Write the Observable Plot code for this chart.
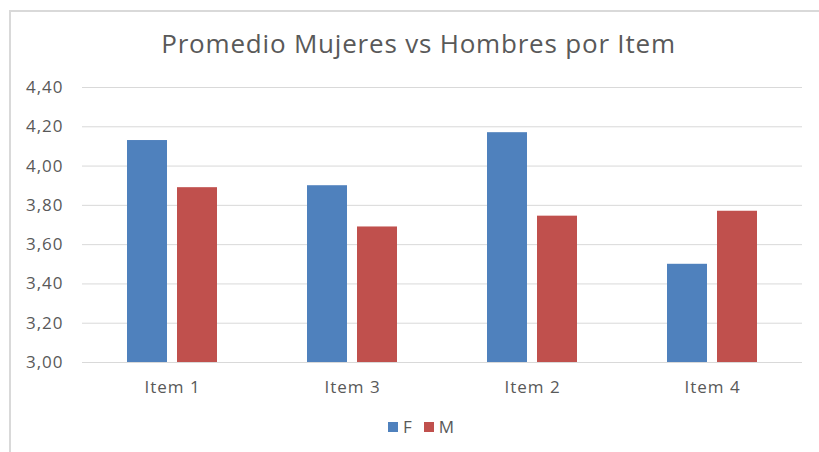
<!DOCTYPE html>
<html><head><meta charset="utf-8">
<script src="https://cdn.jsdelivr.net/npm/d3@7"></script>
<script src="https://cdn.jsdelivr.net/npm/@observablehq/plot@0.6"></script>
<style>
body{margin:0;background:#fff;}
#wrap{position:relative;width:819px;height:452px;overflow:hidden;font-family:"Open Sans",sans-serif;background:#fff;}
#frame{position:absolute;left:9px;top:10px;width:900px;height:500px;border-left:2px solid #d9d9d9;border-top:2px solid #d9d9d9;}
#title{position:absolute;left:0;top:26px;width:837px;text-align:center;font-size:26px;letter-spacing:0.8px;line-height:34px;color:#595959;white-space:nowrap;}
#chart{position:absolute;left:0;top:0;}
#legend{position:absolute;top:416px;left:388px;font-size:17px;line-height:22px;color:#595959;display:flex;align-items:center;}
#legend .sw{display:inline-block;width:10px;height:10px;margin-right:5px;}
#legend .it{display:flex;align-items:center;margin-right:12px;}
</style>
</head><body>
<div id="wrap">
  <div id="frame"></div>
  <div id="title"></div>
  <div id="chart"></div>
  <div id="legend"></div>
</div>
<script>
const titleText = "Promedio Mujeres vs Hombres por Item";
const items = ["Item 1", "Item 3", "Item 2", "Item 4"];
const series = ["F", "M"];
const valuesF = [4.13, 3.90, 4.17, 3.50];
const valuesM = [3.89, 3.69, 3.745, 3.77];
const colors = ["#4F81BD", "#C0504D"];
const yTicks = [3.0, 3.2, 3.4, 3.6, 3.8, 4.0, 4.2, 4.4];

const data = items.flatMap((it, i) => [
  {item: it, sex: series[0], value: valuesF[i]},
  {item: it, sex: series[1], value: valuesM[i]}
]);

const fmt = d3.formatLocale({decimal: ",", thousands: ".", grouping: [3], currency: ["", "€"]}).format(".2f");

document.getElementById("title").textContent = titleText;

const chart = Plot.plot({
  width: 819,
  height: 400,
  marginTop: 87,
  marginBottom: 38,
  marginLeft: 80,
  marginRight: 16,
  style: {fontFamily: "'Open Sans', sans-serif", fontSize: "17px", letterSpacing: "1px", color: "#595959", background: "transparent"},
  fx: {domain: items, padding: 0, label: null, axis: "bottom", tickSize: 0, tickPadding: 18},
  x: {domain: series, axis: null, paddingInner: 0.21, paddingOuter: 0.87},
  y: {domain: [3, 4.4], ticks: yTicks, tickFormat: fmt, label: null, tickSize: 0, tickPadding: 19},
  color: {domain: series, range: colors},
  marks: [
    Plot.gridY(yTicks, {stroke: "#d9d9d9", strokeOpacity: 1, strokeWidth: 1}),
    Plot.barY(data, {fx: "item", x: "sex", y1: 3, y2: "value", fill: "sex"})
  ]
});
document.getElementById("chart").appendChild(chart);

const legend = d3.select("#legend");
series.forEach((s, i) => {
  const it = legend.append("div").attr("class", "it");
  it.append("span").attr("class", "sw").style("background", colors[i]);
  it.append("span").text(s);
});
</script>
</body></html>
